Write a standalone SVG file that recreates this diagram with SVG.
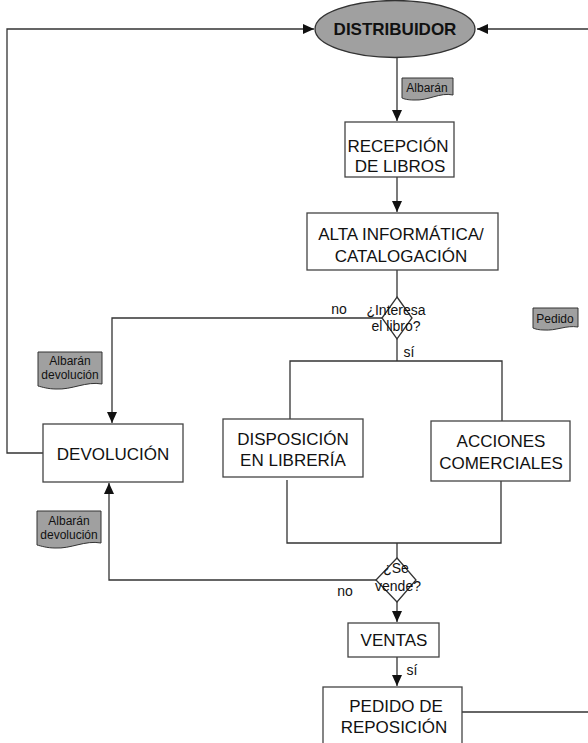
<svg xmlns="http://www.w3.org/2000/svg" width="588" height="743" viewBox="0 0 588 743">
<defs>
<marker id="ah" markerWidth="12" markerHeight="12" refX="11" refY="6" orient="auto" markerUnits="userSpaceOnUse">
<path d="M0,1 L11,6 L0,11 Z" fill="#111"/>
</marker>
<style>
.box{fill:#fff;stroke:#444;stroke-width:1.3}
.ln{fill:none;stroke:#333;stroke-width:1.3}
.doc{fill:#a0a0a0;stroke:#333;stroke-width:1}
.t{font-family:"Liberation Sans",Arial,sans-serif;font-size:17px;fill:#111;text-anchor:middle}
.s{font-family:"Liberation Sans",Arial,sans-serif;font-size:14px;fill:#111;text-anchor:middle}
.d{font-family:"Liberation Sans",Arial,sans-serif;font-size:12px;fill:#111;text-anchor:middle}
</style>
</defs>
<rect width="588" height="743" fill="#fff"/>
<g id="connectors">
<polyline class="ln" points="43,453 7,453 7,29 314,29" marker-end="url(#ah)"/>
<polyline class="ln" points="588,29 477,29" marker-end="url(#ah)"/>
<line class="ln" x1="397" y1="58" x2="397" y2="121" marker-end="url(#ah)"/>
<line class="ln" x1="397" y1="177" x2="397" y2="212" marker-end="url(#ah)"/>
<line class="ln" x1="397" y1="270" x2="397" y2="297"/>
<polyline class="ln" points="382,318 112,318 112,423" marker-end="url(#ah)"/>
<polyline class="ln" points="397,339 397,361"/>
<polyline class="ln" points="290,419 290,361 502,361 502,421"/>
<polyline class="ln" points="287,480 287,543 501,543 501,481"/>
<line class="ln" x1="397" y1="543" x2="397" y2="558"/>
<polyline class="ln" points="376,580 109,580 109,483" marker-end="url(#ah)"/>
<line class="ln" x1="397" y1="602" x2="397" y2="622" marker-end="url(#ah)"/>
<line class="ln" x1="397" y1="657" x2="397" y2="686" marker-end="url(#ah)"/>
<line class="ln" x1="462" y1="712" x2="588" y2="712"/>
</g>
<g id="distribuidor">
<ellipse cx="395" cy="29" rx="80" ry="28.5" fill="#a0a0a0" stroke="#333" stroke-width="1.3"/>
<text class="t" x="395" y="35" font-weight="bold" font-size="17">DISTRIBUIDOR</text>
</g>
<g id="doc-albaran">
<path class="doc" d="M402,78 H453 V95 C440,92 428,101 414,100 C408,100 404,99 402,98 Z"/>
<text class="d" x="427" y="92">Albarán</text>
</g>
<g id="recepcion">
<rect class="box" x="345" y="122" width="109" height="55"/>
<text class="t" x="398" y="152">RECEPCIÓN</text>
<text class="t" x="400" y="172">DE LIBROS</text>
</g>
<g id="alta">
<rect class="box" x="307" y="213" width="191" height="57"/>
<text class="t" x="401" y="240">ALTA INFORMÁTICA/</text>
<text class="t" x="401" y="262">CATALOGACIÓN</text>
</g>
<g id="interesa">
<path class="ln" d="M397,297 L412,318 L397,339 L382,318 Z" fill="#fff"/>
<text class="s" x="396" y="315">¿Interesa</text>
<text class="s" x="396" y="331">el libro?</text>
<text class="s" x="339" y="314">no</text>
<text class="s" x="409" y="357">sí</text>
</g>
<g id="doc-pedido">
<path class="doc" d="M533,308 H578 V327 C566,325 556,331 544,330 C539,330 535,329 533,328 Z"/>
<text class="d" x="555" y="323">Pedido</text>
</g>
<g id="doc-devol1">
<path class="doc" d="M38,352 H102 V384 C86,381 72,390 56,389 C48,389 42,387 38,386 Z"/>
<text class="d" x="70" y="365">Albarán</text>
<text class="d" x="70" y="379">devolución</text>
</g>
<g id="devolucion">
<rect class="box" x="43" y="424" width="140" height="58"/>
<text class="t" x="113" y="460" font-size="18">DEVOLUCIÓN</text>
</g>
<g id="disposicion">
<rect class="box" x="223" y="419" width="140" height="58"/>
<text class="t" x="293" y="445">DISPOSICIÓN</text>
<text class="t" x="293" y="466">EN LIBRERÍA</text>
</g>
<g id="acciones">
<rect class="box" x="431" y="421" width="139" height="60"/>
<text class="t" x="501" y="447">ACCIONES</text>
<text class="t" x="501" y="469">COMERCIALES</text>
</g>
<g id="doc-devol2">
<path class="doc" d="M37,511 H101 V543 C85,540 71,549 55,548 C47,548 41,546 37,545 Z"/>
<text class="d" x="69" y="525">Albarán</text>
<text class="d" x="69" y="539">devolución</text>
</g>
<g id="vende">
<path class="ln" d="M397,558 L416,580 L397,602 L376,580 Z" fill="#fff"/>
<text class="s" x="396" y="573">¿Se</text>
<text class="s" x="398" y="591">vende?</text>
<text class="s" x="345" y="596">no</text>
</g>
<g id="ventas">
<rect class="box" x="348" y="623" width="91" height="34"/>
<text class="t" x="394" y="646">VENTAS</text>
<text class="s" x="412" y="675">sí</text>
</g>
<g id="pedido">
<rect class="box" x="323" y="687" width="139" height="70"/>
<text class="t" x="396" y="712">PEDIDO DE</text>
<text class="t" x="394" y="733">REPOSICIÓN</text>
</g>
</svg>
